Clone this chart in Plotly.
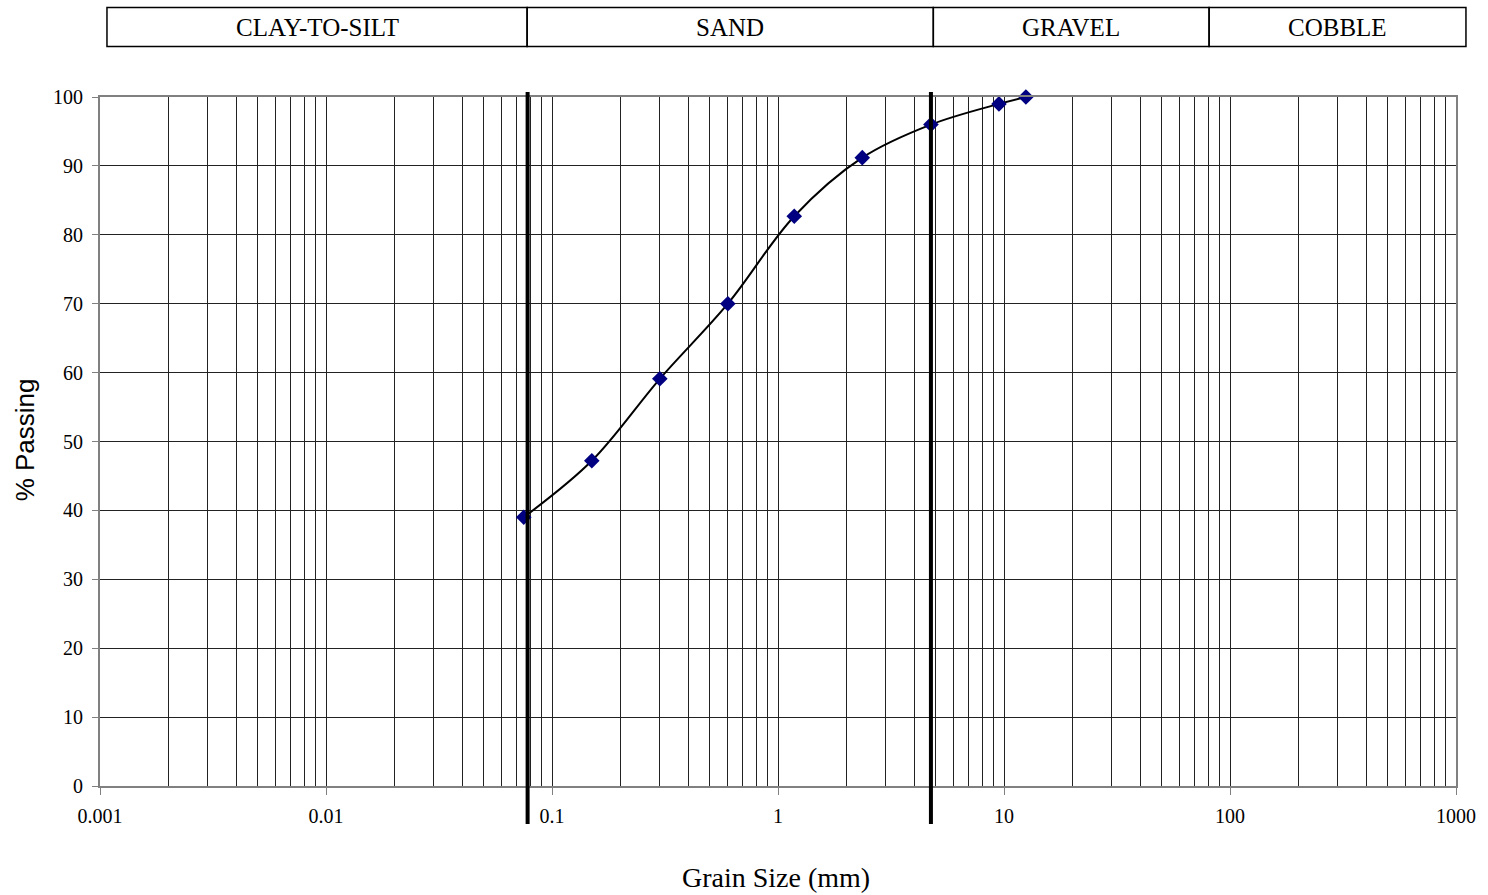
import plotly.graph_objects as go

# ---- data ----
grain_size_mm = [0.075, 0.15, 0.3, 0.6, 1.18, 2.36, 4.75, 9.5, 12.5]
percent_passing = [39.0, 47.2, 59.1, 70.0, 82.7, 91.2, 96.0, 99.0, 100.0]
boundary_sizes = [0.078, 4.75]
x_tick_vals = [0.001, 0.01, 0.1, 1, 10, 100, 1000]
x_tick_text = ["0.001", "0.01", "0.1", "1", "10", "100", "1000"]
y_tick_vals = [0, 10, 20, 30, 40, 50, 60, 70, 80, 90, 100]
header_labels = ["CLAY-TO-SILT", "SAND", "GRAVEL", "COBBLE"]

W, H = 1488, 895
L, R, T, B = 100, 26, 97, 109
PW, PH = W - L - R, H - T - B

def px(xp):
    return (xp - L) / PW

def py(yp):
    return (H - B - yp) / PH

SERIF = "Liberation Serif, Times New Roman, serif"
SANS = "Liberation Sans, Arial, sans-serif"

fig = go.Figure()
fig.add_trace(go.Scatter(
    x=grain_size_mm, y=percent_passing, mode="lines+markers",
    line=dict(color="black", width=2, shape="spline", smoothing=1.0),
    marker=dict(symbol="diamond", color="#000080", size=12, line=dict(width=0)),
    showlegend=False, cliponaxis=False,
))

shapes = []
# thick boundary lines
for bx in boundary_sizes:
    shapes.append(dict(type="line", xref="x", yref="paper", x0=bx, x1=bx,
                       y0=py(824), y1=py(92), line=dict(color="black", width=4)))

# header boxes
edges_px = [107, 529, 937, 1214, 1472]
top_px, bot_px = 7.5, 46.5
annotations = []
for i, lab in enumerate(header_labels):
    x0, x1 = px(edges_px[i]), px(edges_px[i + 1])
    shapes.append(dict(type="rect", xref="paper", yref="paper", x0=x0, x1=x1,
                       y0=py(bot_px), y1=py(top_px), line=dict(color="black", width=1.5),
                       fillcolor="rgba(0,0,0,0)"))
    annotations.append(dict(xref="paper", yref="paper", x=(x0 + x1) / 2,
                            y=py((top_px + bot_px) / 2 + 1), text=lab, showarrow=False,
                            font=dict(family=SERIF, size=25, color="black"),
                            xanchor="center", yanchor="middle"))

annotations.append(dict(xref="paper", yref="paper", x=px(779), y=py(877),
                        text="Grain Size (mm)", showarrow=False,
                        font=dict(family=SERIF, size=28, color="black"),
                        xanchor="center", yanchor="middle"))
annotations.append(dict(xref="paper", yref="paper", x=px(25), y=py(440),
                        text="% Passing", showarrow=False, textangle=-90,
                        font=dict(family=SANS, size=26, color="black"),
                        xanchor="center", yanchor="middle"))

fig.update_layout(
    width=W, height=H,
    margin=dict(l=L, r=R, t=T, b=B, pad=0),
    paper_bgcolor="white", plot_bgcolor="white",
    shapes=shapes, annotations=annotations,
    showlegend=False,
)
fig.update_xaxes(
    type="log", range=[-3, 3],
    tickvals=x_tick_vals, ticktext=x_tick_text,
    showgrid=True, gridcolor="#222222", gridwidth=1,
    minor=dict(dtick="D1", showgrid=True, gridcolor="#222222", gridwidth=1, ticks=""),
    showline=True, linecolor="#808080", linewidth=2, mirror=True,
    ticks="outside", ticklen=7, tickcolor="#808080", tickwidth=1,
    ticklabelstandoff=4,
    tickfont=dict(family=SERIF, size=20, color="black"),
    zeroline=False,
)
fig.update_yaxes(
    range=[0, 100], tickvals=y_tick_vals,
    showgrid=True, gridcolor="#222222", gridwidth=1,
    showline=True, linecolor="#808080", linewidth=2, mirror=True,
    ticks="outside", ticklen=6, tickcolor="#808080", tickwidth=1,
    ticklabelstandoff=5,
    tickfont=dict(family=SERIF, size=20, color="black"),
    zeroline=False,
)

fig.write_html("out.html")
